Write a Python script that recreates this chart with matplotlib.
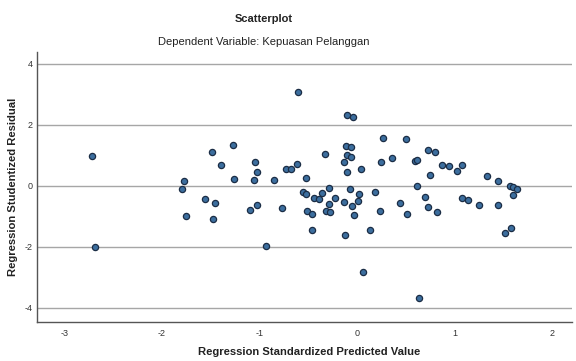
import matplotlib
matplotlib.use("Agg")
import matplotlib.pyplot as plt

plt.rcParams['font.family'] = ['Liberation Sans', 'DejaVu Sans']
plt.rcParams['axes.unicode_minus'] = False

# standardized predicted value vs studentized residual
pred = [-2.72, -2.69, -1.79, -1.77, -1.75, -1.56, -1.49, -1.48, -1.46, -1.40,
        -1.27, -1.26, -1.10, -1.05, -1.06, -1.03, -1.03, -0.93, -0.85, -0.77,
        -0.73, -0.68, -0.62, -0.61, -0.56, -0.52, -0.52, -0.51, -0.46, -0.46,
        -0.44, -0.39, -0.36, -0.33, -0.32, -0.29, -0.29, -0.28, -0.23, -0.14,
        -0.14, -0.13, -0.11, -0.10, -0.10, -0.10, -0.07, -0.06, -0.06, -0.05,
        -0.04, -0.03, 0.02, 0.01, 0.04, 0.06, 0.13, 0.18, 0.23, 0.24,
        0.26, 0.36, 0.44, 0.50, 0.51, 0.59, 0.61, 0.61, 0.63, 0.69,
        0.72, 0.73, 0.75, 0.80, 0.82, 0.87, 0.94, 1.02, 1.07, 1.07,
        1.13, 1.25, 1.33, 1.44, 1.44, 1.51, 1.56, 1.58, 1.60, 1.60,
        1.64]
resid = [0.98, -1.99, -0.10, 0.15, -0.97, -0.44, 1.11, -1.08, -0.56, 0.70,
         1.33, 0.23, -0.79, 0.79, 0.21, -0.63, 0.45, -1.97, 0.19, -0.73,
         0.55, 0.55, 0.71, 3.09, -0.21, 0.26, -0.28, -0.83, -0.91, -1.44,
         -0.39, -0.44, -0.22, 1.05, -0.81, -0.59, -0.07, -0.86, -0.41, -0.53,
         0.79, -1.61, 1.31, 2.33, 1.01, 0.47, -0.10, 0.96, 1.26, -0.67,
         2.25, -0.96, -0.25, -0.50, 0.55, -2.82, -1.44, -0.20, -0.82, 0.80,
         1.57, 0.91, -0.55, 1.55, -0.92, 0.82, 0.84, 0.01, -3.66, -0.37,
         1.18, -0.69, 0.35, 1.11, -0.84, 0.70, 0.65, 0.50, 0.70, -0.38,
         -0.46, -0.63, 0.34, 0.17, -0.63, -1.53, 0.01, -1.38, -0.03, -0.31,
         -0.10]

xticks = [-3, -2, -1, 0, 1, 2]
yticks = [-4, -2, 0, 2, 4]

fig = plt.figure(figsize=(5.76, 3.61), dpi=100)
ax = fig.add_axes([37/576, 1-322/361, (572-37)/576, (322-52)/361])

for yv in yticks:
    ax.axhline(yv, color='#a6a6a6', linewidth=1.0, zorder=1)

ax.scatter(pred, resid, s=20, facecolor='#3c6e9e', edgecolor='#1b2d45',
           linewidths=0.9, zorder=3)

ax.set_xlim(-3.28, 2.2)
ax.set_ylim(-4.46, 4.39)
ax.set_xticks(xticks)
ax.set_yticks(yticks)
ax.tick_params(length=0, labelsize=6.5, labelcolor='#333333')
ax.tick_params(axis='x', pad=5)
ax.tick_params(axis='y', pad=3)

for s in ['top', 'right']:
    ax.spines[s].set_visible(False)
for s in ['left', 'bottom']:
    ax.spines[s].set_color('#555555')
    ax.spines[s].set_linewidth(1.0)

fig.text(264/576, 1-19/361, "Scatterplot", ha='center', va='center',
         fontsize=8, fontweight='bold', color='#222222')
fig.text(264/576, 1-42/361, "Dependent Variable: Kepuasan Pelanggan",
         ha='center', va='center', fontsize=8, color='#222222')
fig.text(309/576, 1-352/361, "Regression Standardized Predicted Value",
         ha='center', va='center', fontsize=8.1, fontweight='bold', color='#222222')
fig.text(13/576, 1-187/361, "Regression Studentized Residual", ha='center',
         va='center', rotation=90, fontsize=8.1, fontweight='bold', color='#222222')

fig.savefig("out.png", dpi=100)
